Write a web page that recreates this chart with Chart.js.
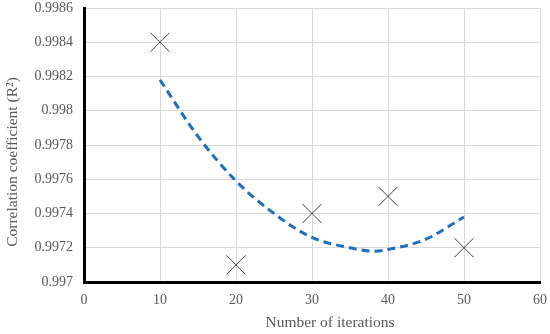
<!DOCTYPE html>
<html>
<head>
<meta charset="utf-8">
<script src="https://cdn.jsdelivr.net/npm/chart.js@4"></script>
<style>
  html, body { margin: 0; padding: 0; background: #fff; }
  #wrap { width: 550px; height: 334px; }
</style>
</head>
<body>
<div id="wrap"><canvas id="chart" width="550" height="334"></canvas></div>
<script>
// measured points
const iterations = [10, 20, 30, 40, 50];
const rSquared = [0.9984, 0.9971, 0.9974, 0.9975, 0.9972];

// dashed trend curve
const trendX = [10, 15, 20, 25, 30, 35, 38, 40, 45, 50];
const trendY = [0.99818, 0.99785, 0.99759, 0.9974, 0.99726, 0.9972, 0.99718, 0.99719, 0.99725, 0.99738];

const xTicks = [0, 10, 20, 30, 40, 50, 60];
const yTicks = [0.997, 0.9972, 0.9974, 0.9976, 0.9978, 0.998, 0.9982, 0.9984, 0.9986];

const xTitle = 'Number of iterations';
const yTitle = 'Correlation coefficient (R²)';

const font = "'Liberation Serif', 'Times New Roman', serif";

// axis titles sit a bit off the plot centre in the original, so draw them by hand
const axisTitles = {
    id: 'axisTitles',
    afterDraw(chart) {
        const ctx = chart.ctx;
        const area = chart.chartArea;
        ctx.save();
        ctx.fillStyle = '#595959';
        ctx.font = '15.5px ' + font;
        ctx.textAlign = 'center';
        ctx.textBaseline = 'middle';
        ctx.fillText(xTitle, (area.left + area.right) / 2 + 18, 323);
        ctx.translate(13, (area.top + area.bottom) / 2 + 17);
        ctx.rotate(-Math.PI / 2);
        ctx.fillText(yTitle, 0, 0);
        ctx.restore();
    }
};

new Chart(document.getElementById('chart').getContext('2d'), {
    type: 'scatter',
    data: {
        datasets: [
            {
                label: 'R²',
                data: iterations.map((x, i) => ({ x: x, y: rSquared[i] })),
                pointStyle: 'crossRot',
                pointRadius: 13.5,
                pointBorderColor: '#404040',
                pointBorderWidth: 1,
                showLine: false,
                clip: false,
                order: 1
            },
            {
                label: 'Trend',
                data: trendX.map((x, i) => ({ x: x, y: trendY[i] })),
                showLine: true,
                borderColor: '#1f6fbd',
                borderWidth: 3,
                borderDash: [8, 5],
                pointRadius: 0,
                cubicInterpolationMode: 'monotone',
                order: 2
            }
        ]
    },
    options: {
        responsive: false,
        animation: false,
        layout: { padding: 0, autoPadding: false },
        plugins: { legend: { display: false }, tooltip: { enabled: false } },
        scales: {
            x: {
                type: 'linear',
                min: 0, max: 60,
                afterBuildTicks: s => { s.ticks = xTicks.map(v => ({ value: v })); },
                afterFit: s => { s.height = 52; s.paddingLeft = 0; s.paddingRight = 10; },
                grid: { color: '#d9d9d9', lineWidth: 1, drawTicks: false },
                border: { color: '#000', width: 3 },
                ticks: { padding: 10, color: '#595959', font: { family: font, size: 14 } }
            },
            y: {
                type: 'linear',
                min: 0.997, max: 0.9986,
                afterBuildTicks: s => { s.ticks = yTicks.map(v => ({ value: v })); },
                afterFit: s => { s.width = 84; s.paddingTop = 8; s.paddingBottom = 0; },
                grid: { color: '#d9d9d9', lineWidth: 1, drawTicks: false },
                border: { color: '#000', width: 3 },
                ticks: { padding: 11, color: '#595959', font: { family: font, size: 14 }, callback: v => String(+v.toFixed(4)) }
            }
        }
    },
    plugins: [axisTitles]
});
</script>
</body>
</html>
